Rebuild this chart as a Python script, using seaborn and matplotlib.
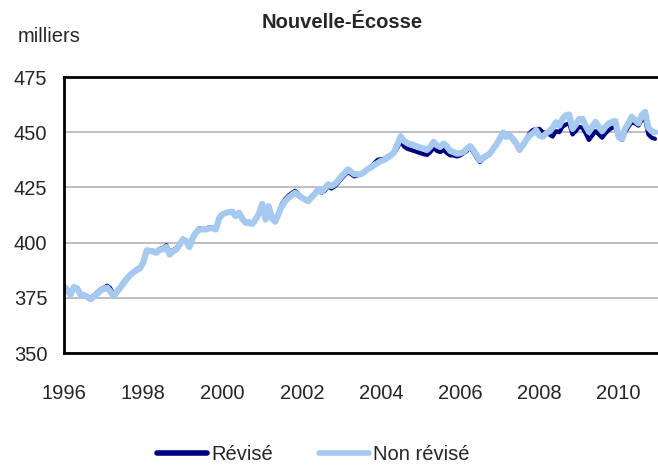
import numpy as np
import pandas as pd
import matplotlib
matplotlib.use("Agg")
import matplotlib.pyplot as plt
import matplotlib.dates as mdates
import seaborn as sns

# monthly values, Jan 1996 - Dec 2010 (thousands)
revise = [
    380.0, 378.0, 376.8, 379.5, 379.0, 376.5, 376.5, 375.8, 375.0, 376.0, 377.5, 378.8,
    379.5, 380.5, 379.5, 376.5, 378.0, 380.0, 382.0, 384.0, 385.5, 386.8, 388.0, 388.8,
    391.5, 396.0, 396.0, 396.3, 396.0, 397.2, 397.5, 398.8, 396.0, 396.5, 397.5, 399.5,
    401.8, 401.0, 398.5, 402.5, 405.0, 406.5, 406.0, 406.3, 407.0, 406.8, 406.5, 411.5,
    413.0, 413.5, 413.5, 413.5, 412.5, 413.0, 410.5, 409.0, 409.5, 409.0, 410.5, 412.5,
    415.5, 412.0, 415.5, 412.0, 410.5, 413.5, 417.5, 419.8, 421.3, 422.5, 423.5, 422.0,
    420.5, 419.8, 419.2, 421.0, 422.5, 424.0, 422.5, 423.5, 425.5, 424.5, 425.5, 427.0,
    429.0, 430.5, 432.0, 431.0, 430.0, 430.5, 430.8, 432.0, 433.5, 434.5, 436.0, 437.5,
    437.8, 438.0, 439.0, 439.8, 440.5, 443.0, 446.0, 443.5, 442.5, 442.0, 441.5, 441.0,
    440.5, 440.0, 439.7, 441.0, 443.0, 441.5, 441.0, 442.0, 440.5, 439.5, 439.5, 439.0,
    439.5, 440.5, 441.5, 443.0, 441.0, 438.5, 436.5, 438.0, 439.0, 440.0, 442.5, 444.5,
    447.0, 449.5, 448.0, 448.5, 446.5, 444.5, 441.8, 444.0, 447.0, 449.5, 451.0, 451.5,
    451.5, 450.0, 450.0, 449.0, 448.0, 450.5, 450.0, 452.5, 453.5, 454.0, 449.0, 450.5,
    452.5, 452.0, 449.5, 446.5, 448.5, 450.5, 449.0, 447.5, 449.5, 451.0, 452.0, 452.5,
    447.5, 446.5, 450.0, 452.5, 454.5, 454.0, 453.0, 455.5, 456.0, 449.0, 447.5, 447.0,
]

non_revise = [
    380.2, 378.5, 376.4, 379.9, 379.3, 376.5, 376.2, 375.5, 374.4, 375.5, 376.8, 378.3,
    379.0, 379.6, 378.0, 375.7, 377.5, 379.5, 381.5, 383.5, 385.3, 386.5, 387.6, 388.3,
    391.0, 396.5, 396.3, 396.0, 395.4, 396.9, 396.9, 398.0, 394.6, 396.0, 396.9, 399.0,
    401.4, 400.5, 398.0, 402.0, 404.5, 406.0, 406.0, 406.0, 406.5, 406.5, 406.0, 411.0,
    412.8, 413.5, 413.8, 414.0, 412.0, 413.5, 411.0, 409.0, 409.0, 408.5, 410.5, 413.0,
    417.5, 410.5, 416.5, 411.0, 409.5, 413.0, 416.5, 418.8, 420.3, 421.5, 422.6, 421.5,
    420.3, 419.5, 418.8, 420.5, 422.0, 424.1, 423.0, 424.5, 426.4, 425.6, 426.5, 428.0,
    430.0, 431.5, 433.2, 432.0, 431.0, 431.0, 431.0, 432.0, 433.3, 434.0, 435.2, 436.0,
    437.0, 437.5, 438.5, 439.5, 441.0, 444.5, 448.2, 446.0, 445.0, 444.5, 444.1, 443.5,
    443.0, 442.6, 442.0, 443.5, 445.6, 444.0, 443.4, 444.9, 443.5, 441.5, 441.0, 440.3,
    440.5, 441.1, 442.5, 443.7, 442.0, 439.5, 437.3, 438.5, 439.5, 440.3, 442.5, 444.5,
    447.2, 449.8, 447.9, 448.7, 447.0, 445.0, 442.0, 444.1, 446.5, 448.5, 449.5, 451.0,
    448.5, 448.0, 449.4, 450.5, 452.0, 454.5, 453.0, 456.0, 457.7, 458.0, 451.5, 453.5,
    456.0, 456.0, 453.0, 450.2, 452.5, 454.7, 452.5, 450.5, 452.5, 454.0, 454.7, 455.0,
    448.0, 447.0, 451.7, 454.0, 457.0, 455.4, 454.0, 457.7, 459.2, 452.0, 450.5, 450.0,
]

series_names = ["Révisé", "Non révisé"]
y_ticks = [350, 375, 400, 425, 450, 475]
x_tick_years = [1996, 1998, 2000, 2002, 2004, 2006, 2008, 2010]

dates = pd.date_range("1996-01-01", periods=len(revise), freq="MS")

sns.set_style("white")
plt.rcParams["font.family"] = ["Liberation Sans", "DejaVu Sans"]

fig = plt.figure(figsize=(6.58, 4.68), dpi=100)
ax = fig.add_axes([0.0973, 0.2457, 0.9027, 0.5897])

ax.yaxis.grid(True, color="#b3b3b3", linewidth=1.2)
ax.set_axisbelow(True)

sns.lineplot(x=dates, y=revise, ax=ax, color="#000080", linewidth=3.0,
             label=series_names[0])
sns.lineplot(x=dates, y=non_revise, ax=ax, color="#a6c9f0", linewidth=4.5,
             label=series_names[1])

ax.set_ylim(350, 475)
ax.set_yticks(y_ticks)
ax.set_xlim(pd.Timestamp("1996-01-01"), pd.Timestamp("2010-12-29"))
ax.set_xticks([pd.Timestamp(f"{y}-01-01") for y in x_tick_years])
ax.xaxis.set_major_formatter(mdates.DateFormatter("%Y"))

ax.tick_params(axis="x", direction="in", length=7, width=1.5, color="black",
               labelsize=14.5, pad=22)
ax.tick_params(axis="y", length=0, labelsize=14.5, pad=12)
ax.set_xlabel("")
ax.set_ylabel("")

for side in ["left", "bottom", "top"]:
    ax.spines[side].set_color("black")
    ax.spines[side].set_linewidth(2)
ax.spines["right"].set_visible(False)

fig.text(0.52, 0.951, "Nouvelle-Écosse", ha="center", va="center",
         fontsize=14.5, fontweight="bold")
fig.text(0.027, 0.923, "milliers", ha="left", va="center", fontsize=14.5)

ax.get_legend().remove()
handles, labels = ax.get_legend_handles_labels()
leg = fig.legend(handles, labels, loc="center", bbox_to_anchor=(0.476, 0.028),
                 ncol=2, frameon=False, fontsize=14.5, handlelength=2.5,
                 handletextpad=0.2, columnspacing=2.3)
for line in leg.get_lines():
    line.set_linewidth(4)

fig.savefig("out.png", dpi=100)
plt.close(fig)
